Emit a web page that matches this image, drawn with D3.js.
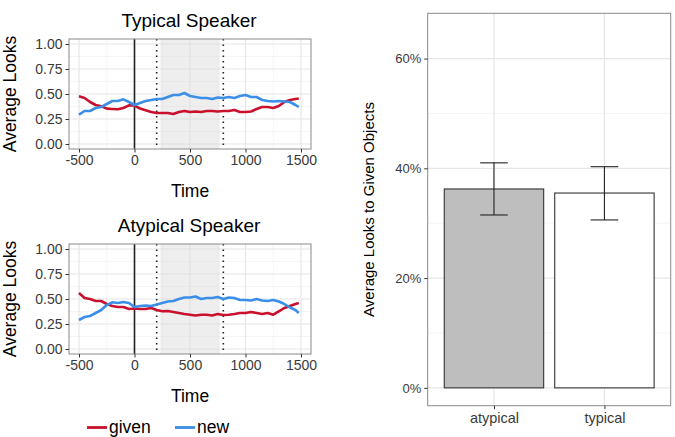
<!DOCTYPE html>
<html>
<head>
<meta charset="utf-8">
<script src="https://cdn.jsdelivr.net/npm/d3@7"></script>
<style>
  body { margin: 0; background: #fff; }
  svg { font-family: "Liberation Sans", Arial, Helvetica, sans-serif; }
</style>
</head>
<body>
<svg width="675" height="437"></svg>
<script>
// ---- data ----
const times = [-500, -450, -400, -350, -300, -250, -200, -150, -100, -50, 0, 50, 100, 150, 200,
  250, 300, 350, 400, 450, 500, 550, 600, 650, 700, 750, 800, 850, 900, 950, 1000, 1050, 1100,
  1150, 1200, 1250, 1300, 1350, 1400, 1450, 1480];

const typicalGiven = [0.477, 0.46, 0.42, 0.39, 0.377, 0.354, 0.35, 0.347, 0.36, 0.387, 0.385, 0.354,
  0.337, 0.32, 0.31, 0.31, 0.31, 0.30, 0.32, 0.33, 0.32, 0.325, 0.32, 0.33, 0.33, 0.325, 0.33,
  0.33, 0.34, 0.32, 0.32, 0.325, 0.35, 0.37, 0.37, 0.36, 0.38, 0.42, 0.44, 0.45, 0.455];
const typicalNew = [0.293, 0.33, 0.33, 0.36, 0.37, 0.40, 0.43, 0.43, 0.447, 0.42, 0.39, 0.41,
  0.43, 0.44, 0.45, 0.45, 0.47, 0.49, 0.49, 0.51, 0.48, 0.47, 0.46, 0.46, 0.45, 0.465, 0.46,
  0.47, 0.46, 0.48, 0.49, 0.47, 0.47, 0.44, 0.43, 0.425, 0.43, 0.425, 0.42, 0.39, 0.37];
const atypicalGiven = [0.56, 0.51, 0.50, 0.48, 0.48, 0.45, 0.43, 0.42, 0.42, 0.40, 0.405, 0.40,
  0.40, 0.41, 0.39, 0.377, 0.38, 0.37, 0.36, 0.35, 0.343, 0.335, 0.343, 0.343, 0.335, 0.35, 0.34,
  0.343, 0.35, 0.36, 0.36, 0.37, 0.36, 0.35, 0.36, 0.343, 0.377, 0.41, 0.43, 0.45, 0.46];
const atypicalNew = [0.29, 0.32, 0.33, 0.36, 0.39, 0.44, 0.467, 0.46, 0.47, 0.46, 0.42, 0.43,
  0.435, 0.43, 0.445, 0.46, 0.475, 0.48, 0.50, 0.515, 0.515, 0.525, 0.50, 0.51, 0.51, 0.52, 0.50,
  0.515, 0.51, 0.49, 0.49, 0.485, 0.50, 0.485, 0.48, 0.49, 0.475, 0.45, 0.415, 0.39, 0.36];

const timeTicks = [-500, 0, 500, 1000, 1500];
const timeMinor = [-250, 250, 750, 1250];
const looksTicks = [0, 0.25, 0.5, 0.75, 1];
const looksMinor = [0.125, 0.375, 0.625, 0.875];
const windowLines = [200, 800];
const windowShade = [233, 767];

const seriesNames = ["given", "new"];
const seriesColors = ["#c9112d", "#3b8fe6"];

const barCategories = ["atypical", "typical"];
const barMeans = [0.3624, 0.355];
const barLower = [0.315, 0.306];
const barUpper = [0.410, 0.403];
const barFills = ["#bebebe", "#ffffff"];
const barTicks = [0, 0.2, 0.4, 0.6];
const barMinor = [0.1, 0.3, 0.5];

// ---- drawing ----
const svg = d3.select("svg");
const gridMajor = "#e6e6e6";
const gridMinor = "#f3f3f3";
const border = "#8a8a8a";
const tickText = "#3a3a3a";

const x = d3.scaleLinear().domain([-590, 1590]).range([69, 311]);

const linePanel = (top, title, given, fresh) => {
  const y = d3.scaleLinear().domain([-0.05, 1.05]).range([top + 110, top]);
  const g = svg.append("g");
  const [x0, x1] = x.range();

  g.append("rect").attr("x", x0).attr("y", top).attr("width", x1 - x0).attr("height", 110)
    .attr("fill", "#fff");

  g.selectAll(".vminor").data(timeMinor).join("line")
    .attr("x1", x).attr("x2", x).attr("y1", top).attr("y2", top + 110)
    .attr("stroke", gridMinor).attr("stroke-width", 0.8);
  g.selectAll(".hminor").data(looksMinor).join("line")
    .attr("y1", y).attr("y2", y).attr("x1", x0).attr("x2", x1)
    .attr("stroke", gridMinor).attr("stroke-width", 0.8);
  g.selectAll(".vmajor").data(timeTicks).join("line")
    .attr("x1", x).attr("x2", x).attr("y1", top).attr("y2", top + 110)
    .attr("stroke", gridMajor).attr("stroke-width", 1.2);
  g.selectAll(".hmajor").data(looksTicks).join("line")
    .attr("y1", y).attr("y2", y).attr("x1", x0).attr("x2", x1)
    .attr("stroke", gridMajor).attr("stroke-width", 1.2);

  // analysis window
  g.append("rect")
    .attr("x", x(windowShade[0])).attr("width", x(windowShade[1]) - x(windowShade[0]))
    .attr("y", top).attr("height", 110)
    .attr("fill", "#d9d9d9").attr("opacity", 0.45);

  g.append("line").attr("x1", x(0)).attr("x2", x(0)).attr("y1", top).attr("y2", top + 110)
    .attr("stroke", "#222").attr("stroke-width", 1.6);
  g.selectAll(".win").data(windowLines).join("line")
    .attr("x1", x).attr("x2", x).attr("y1", top).attr("y2", top + 110)
    .attr("stroke", "#222").attr("stroke-width", 1.6).attr("stroke-dasharray", "1.5,4");

  const line = d3.line().x((d, i) => x(times[i])).y((d) => y(d));
  [given, fresh].forEach((vals, i) => {
    g.append("path").attr("d", line(vals)).attr("fill", "none")
      .attr("stroke", seriesColors[i]).attr("stroke-width", 2.6)
      .attr("stroke-linejoin", "round");
  });

  g.append("rect").attr("x", x0).attr("y", top).attr("width", x1 - x0).attr("height", 110)
    .attr("fill", "none").attr("stroke", border).attr("stroke-width", 1);

  const xAxisG = g.append("g").attr("transform", `translate(0,${top + 110})`)
    .call(d3.axisBottom(x).tickValues(timeTicks).tickFormat((d) => String(d))
      .tickSize(3.5).tickPadding(3));
  const yAxisG = g.append("g").attr("transform", `translate(${x0},0)`)
    .call(d3.axisLeft(y).tickValues(looksTicks).tickFormat(d3.format(".2f")).tickSize(3.5).tickPadding(3));
  [xAxisG, yAxisG].forEach((a) => {
    a.select(".domain").remove();
    a.selectAll(".tick line").attr("stroke", "#333");
    a.selectAll("text").attr("fill", tickText).style("font-size", "14px")
      .style("font-family", "'Liberation Sans', Arial, sans-serif");
  });

  g.append("text").attr("x", 189).attr("y", top - 12).attr("text-anchor", "middle")
    .style("font-size", "19px").text(title);
  g.append("text").attr("x", 190).attr("y", top + 158).attr("text-anchor", "middle")
    .style("font-size", "17.5px").text("Time");
  g.append("text").attr("transform", `translate(16,${top + 55}) rotate(-90)`)
    .attr("text-anchor", "middle").style("font-size", "17.5px").text("Average Looks");
};

linePanel(39, "Typical Speaker", typicalGiven, typicalNew);
linePanel(244, "Atypical Speaker", atypicalGiven, atypicalNew);

// legend
const legend = svg.append("g");
const legendX = [87, 175];
seriesNames.forEach((name, i) => {
  legend.append("line").attr("x1", legendX[i]).attr("x2", legendX[i] + 20)
    .attr("y1", 427.5).attr("y2", 427.5)
    .attr("stroke", seriesColors[i]).attr("stroke-width", 2.8);
  legend.append("text").attr("x", legendX[i] + 22).attr("y", 433)
    .style("font-size", "17.5px").text(name);
});

// ---- bar chart ----
const bx = d3.scalePoint().domain(barCategories).range([427.7, 670.7]).padding(0.6);
const by = d3.scaleLinear().domain([-0.0325, 0.6825]).range([405.7, 13.3]);
const step = bx.step();
const bg = svg.append("g");
const [bx0, bx1] = bx.range();
const [byBottom, byTop] = by.range();

bg.selectAll(".hminor").data(barMinor).join("line")
  .attr("y1", by).attr("y2", by).attr("x1", bx0).attr("x2", bx1)
  .attr("stroke", gridMinor).attr("stroke-width", 0.8);
bg.selectAll(".hmajor").data(barTicks).join("line")
  .attr("y1", by).attr("y2", by).attr("x1", bx0).attr("x2", bx1)
  .attr("stroke", gridMajor).attr("stroke-width", 1.2);
bg.selectAll(".vmajor").data(barCategories).join("line")
  .attr("x1", bx).attr("x2", bx).attr("y1", byTop).attr("y2", byBottom)
  .attr("stroke", gridMajor).attr("stroke-width", 1.2);

bg.selectAll(".bar").data(barCategories).join("rect")
  .attr("x", (d) => bx(d) - step * 0.45).attr("width", step * 0.9)
  .attr("y", (d, i) => by(barMeans[i])).attr("height", (d, i) => by(0) - by(barMeans[i]))
  .attr("fill", (d, i) => barFills[i]).attr("stroke", "#333").attr("stroke-width", 1.1);

const eb = bg.selectAll(".err").data(barCategories).join("g");
eb.append("line").attr("x1", bx).attr("x2", bx)
  .attr("y1", (d, i) => by(barLower[i])).attr("y2", (d, i) => by(barUpper[i]));
eb.append("line").attr("x1", (d) => bx(d) - step * 0.125).attr("x2", (d) => bx(d) + step * 0.125)
  .attr("y1", (d, i) => by(barUpper[i])).attr("y2", (d, i) => by(barUpper[i]));
eb.append("line").attr("x1", (d) => bx(d) - step * 0.125).attr("x2", (d) => bx(d) + step * 0.125)
  .attr("y1", (d, i) => by(barLower[i])).attr("y2", (d, i) => by(barLower[i]));
eb.selectAll("line").attr("stroke", "#222").attr("stroke-width", 1.1);

bg.append("rect").attr("x", bx0).attr("y", byTop).attr("width", bx1 - bx0)
  .attr("height", byBottom - byTop).attr("fill", "none").attr("stroke", border).attr("stroke-width", 1);

const bxAxis = bg.append("g").attr("transform", `translate(0,${byBottom})`)
  .call(d3.axisBottom(bx).tickSize(3.5).tickPadding(4));
const byAxis = bg.append("g").attr("transform", `translate(${bx0},0)`)
  .call(d3.axisLeft(by).tickValues(barTicks).tickFormat(d3.format(".0%")).tickSize(3.5).tickPadding(3));
bxAxis.selectAll("text").style("font-size", "14.5px");
byAxis.selectAll("text").style("font-size", "13px");
[bxAxis, byAxis].forEach((a) => {
  a.select(".domain").remove();
  a.selectAll(".tick line").attr("stroke", "#333");
  a.selectAll("text").attr("fill", tickText)
    .style("font-family", "'Liberation Sans', Arial, sans-serif");
});

bg.append("text").attr("transform", `translate(374,${(byTop + byBottom) / 2}) rotate(-90)`)
  .attr("text-anchor", "middle").style("font-size", "15px").text("Average Looks to Given Objects");
</script>
</body>
</html>
